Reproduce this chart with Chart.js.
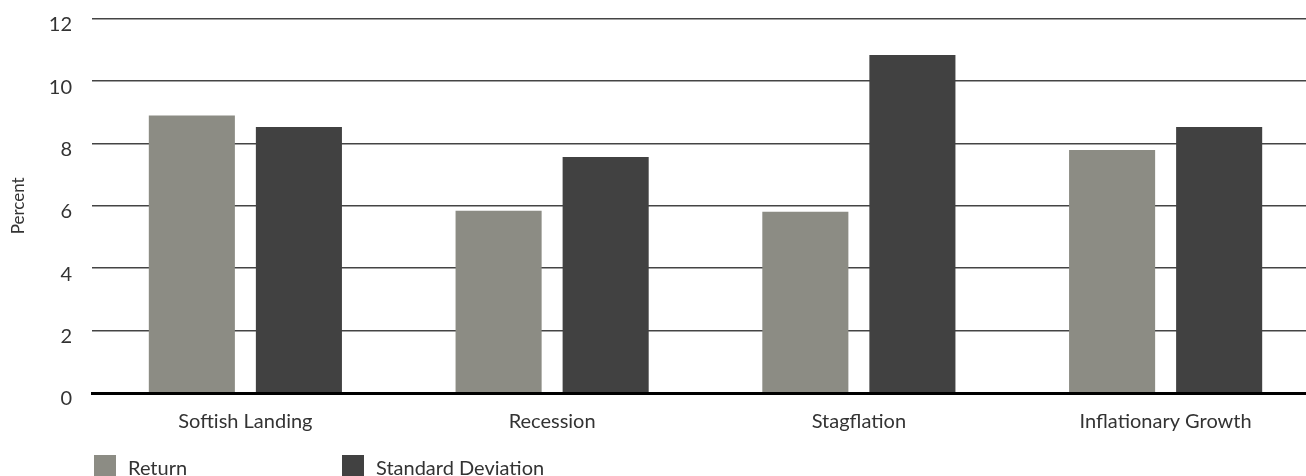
<!DOCTYPE html>
<html>
<head>
<meta charset="utf-8">
<script src="https://cdn.jsdelivr.net/npm/chart.js@4/dist/chart.umd.min.js"></script>
<style>
  html, body { margin: 0; padding: 0; background: #fff; overflow: hidden; }
  body { width: 1306px; height: 476px; position: relative; }
  #wrap { position: absolute; left: 0; top: 0; width: 1319px; height: 476px; }
  .legend { position: absolute; top: 455px; font-family: Lato, "Open Sans", sans-serif; font-weight: 400;
            font-size: 20px; line-height: 24px; color: #333; white-space: nowrap; }
  .legend .sw { position: absolute; top: 0; width: 22px; height: 21px; }
  .legend .tx { position: absolute; top: 0; }
</style>
</head>
<body>
<div id="wrap"><canvas id="chart"></canvas></div>
<div class="legend" id="legend"></div>
<script>
// Scenario categories and series values (percent)
const categories = ['Softish Landing', 'Recession', 'Stagflation', 'Inflationary Growth'];
const returnValues = [8.9, 5.84, 5.81, 7.79];
const stdDevValues = [8.53, 7.57, 10.84, 8.53];
const seriesNames = ['Return', 'Standard Deviation'];
const seriesColors = ['#8c8c84', '#414141'];
const yTicks = [0, 2, 4, 6, 8, 10, 12];

const FONT = 'Lato, "Open Sans", sans-serif';
const TEXT = '#333';

const chart = new Chart(document.getElementById('chart'), {
  type: 'bar',
  data: {
    labels: categories,
    datasets: [
      { label: seriesNames[0], data: returnValues, backgroundColor: seriesColors[0] },
      { label: seriesNames[1], data: stdDevValues, backgroundColor: seriesColors[1] }
    ]
  },
  options: {
    responsive: true,
    maintainAspectRatio: false,
    devicePixelRatio: 1,
    animation: false,
    layout: { padding: { top: 18.7, right: 0, bottom: 0, left: 0 } },
    datasets: { bar: { categoryPercentage: 0.698, barPercentage: 0.804 } },
    plugins: { legend: { display: false }, tooltip: { enabled: false } },
    scales: {
      x: {
        grid: { display: false, drawTicks: false },
        border: { display: true, color: '#000', width: 3, z: 1 },
        ticks: { color: TEXT, font: { family: FONT, size: 20, weight: 400 }, padding: 17, maxRotation: 0 },
        afterFit: (s) => { s.height = 83; }
      },
      y: {
        min: yTicks[0],
        max: yTicks[yTicks.length - 1],
        afterBuildTicks: (s) => { s.ticks = yTicks.map(v => ({ value: v })); },
        grid: {
          drawTicks: false,
          color: '#444',
          lineWidth: (ctx) => (ctx.tick && ctx.tick.value === 0 ? 0 : 1.5)
        },
        border: { display: false },
        ticks: { color: TEXT, font: { family: FONT, size: 20, weight: 400 }, padding: 20, labelOffset: 6 },
        title: { display: true, text: 'Percent', color: TEXT, font: { family: FONT, size: 17, weight: 400 },
                 padding: { top: 8, bottom: 0 } },
        afterFit: (s) => { s.width = 92; s.paddingTop = 0; s.paddingBottom = 0; }
      }
    }
  }
});

// Legend row built from the same series names and colours
const legend = document.getElementById('legend');
const legendX = [94, 342];
seriesNames.forEach((name, i) => {
  const sw = document.createElement('div');
  sw.className = 'sw';
  sw.style.left = legendX[i] + 'px';
  sw.style.background = seriesColors[i];
  const tx = document.createElement('div');
  tx.className = 'tx';
  tx.style.left = (legendX[i] + 34) + 'px';
  tx.textContent = name;
  legend.appendChild(sw);
  legend.appendChild(tx);
});
</script>
</body>
</html>
